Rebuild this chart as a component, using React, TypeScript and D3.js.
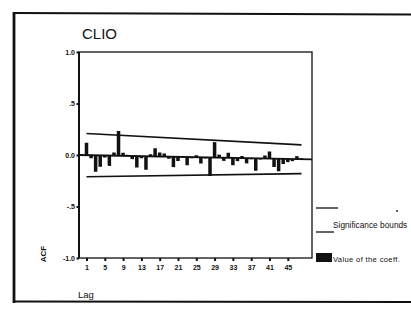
import React, { useEffect, useRef } from 'react';
import * as d3 from 'd3';

const title = 'CLIO';
const lags = d3.range(1, 49);
const acfValues = [
  0.12, -0.03, -0.16, -0.11, -0.02, -0.1, 0.03, 0.24, 0.03, 0.01,
  -0.03, -0.11, -0.02, -0.13, 0.02, 0.08, 0.04, 0.03, -0.02, -0.1,
  -0.04, 0.01, -0.08, -0.01, 0.02, -0.06, -0.01, -0.18, 0.15, 0.03,
  -0.03, 0.05, -0.07, -0.03, 0.02, -0.05, -0.01, -0.12, -0.01, 0.03,
  0.07, -0.08, -0.12, -0.05, -0.03, -0.02, 0.03, 0.01,
];
// significance bound at first and last lag
const boundLags = [1, 48];
const boundValues = [0.21, 0.14];
const yTicks = [1, 0.5, 0, -0.5, -1];
const yTickLabels = ['1.0', '.5', '0.0', '-.5', '-1.0'];
const xTicks = [1, 5, 9, 13, 17, 21, 25, 29, 33, 37, 41, 45];
const legendLabels = ['Significance bounds', 'Value of the coeff.'];

const App = () => {
  const ref = useRef(null);

  useEffect(() => {
    const svg = d3.select(ref.current);
    svg.selectAll('*').remove();
    const font = '"Liberation Sans", Arial, sans-serif';
    const ink = '#111';

    const left = 79, right = 312, top = 52, bottom = 258;
    const x = d3.scaleLinear().domain([1, 48]).range([86.5, 301.5]);
    const y = d3.scaleLinear().domain([-1, 1]).range([bottom, top]);

    // outer frame (scan)
    svg.append('line').attr('x1', 14).attr('x2', 411).attr('y1', 13).attr('y2', 14.5)
      .attr('stroke', ink).attr('stroke-width', 1.8);
    svg.append('line').attr('x1', 14).attr('x2', 411).attr('y1', 301.5).attr('y2', 302)
      .attr('stroke', ink).attr('stroke-width', 1.8);
    svg.append('line').attr('x1', 14).attr('x2', 14).attr('y1', 12).attr('y2', 303)
      .attr('stroke', ink).attr('stroke-width', 2.8);

    svg.append('text').attr('x', 82).attr('y', 38.5).text(title)
      .style('font-family', font).style('font-size', '15px').style('fill', ink);

    // plot box
    svg.append('rect').attr('x', left).attr('y', top)
      .attr('width', right - left).attr('height', bottom - top)
      .attr('fill', 'none').attr('stroke', ink).attr('stroke-width', 1.3);
    svg.append('line').attr('x1', left).attr('x2', left).attr('y1', top).attr('y2', bottom)
      .attr('stroke', ink).attr('stroke-width', 2);

    const yAxis = svg.append('g').attr('transform', `translate(${left},0)`)
      .call(d3.axisLeft(y).tickValues(yTicks).tickSize(2.5)
        .tickFormat((d, i) => yTickLabels[i]));
    yAxis.select('.domain').remove();
    yAxis.selectAll('line').attr('stroke', ink).attr('stroke-width', 2);
    yAxis.selectAll('text').attr('x', -4).attr('dy', '0.35em')
      .style('font-family', font).style('font-size', '7px').style('font-weight', 'bold').style('fill', ink);

    const xAxis = svg.append('g').attr('transform', `translate(0,${bottom})`)
      .call(d3.axisBottom(x).tickValues(xTicks).tickSize(3).tickFormat(d3.format('d')));
    xAxis.select('.domain').remove();
    xAxis.selectAll('line').attr('stroke', ink).attr('stroke-width', 2);
    xAxis.selectAll('text').attr('y', 7)
      .style('font-family', font).style('font-size', '7px').style('font-weight', 'bold').style('fill', ink);

    // data drawn with the slight tilt of the scanned page
    const g = svg.append('g')
      .attr('transform', `translate(${left},0) skewY(1.1) translate(${-left},0)`);
    g.append('line').attr('x1', left).attr('x2', right).attr('y1', y(0)).attr('y2', y(0))
      .attr('stroke', ink).attr('stroke-width', 1.8);
    g.selectAll('rect.bar').data(acfValues).enter().append('rect')
      .attr('class', 'bar')
      .attr('x', (d, i) => x(lags[i]) - 1.75)
      .attr('width', 3.5)
      .attr('y', d => y(Math.max(0, d)))
      .attr('height', d => Math.abs(y(d) - y(0)))
      .attr('fill', ink);
    [1, -1].forEach(sign => {
      const line = d3.line<number>()
        .x((d, i) => x(boundLags[i]))
        .y(d => y(sign * d));
      g.append('path').attr('d', line(boundValues))
        .attr('fill', 'none').attr('stroke', ink).attr('stroke-width', 1.7);
    });

    // legend
    svg.append('line').attr('x1', 316).attr('x2', 338).attr('y1', 208).attr('y2', 208)
      .attr('stroke', ink).attr('stroke-width', 1.3);
    svg.append('circle').attr('cx', 397).attr('cy', 211).attr('r', 0.9).attr('fill', ink);
    svg.append('line').attr('x1', 316).attr('x2', 334).attr('y1', 232).attr('y2', 232)
      .attr('stroke', ink).attr('stroke-width', 1.3);
    svg.append('text').attr('x', 333).attr('y', 228).text(legendLabels[0])
      .style('font-family', font).style('font-size', '8.3px').style('fill', ink);
    svg.append('rect').attr('x', 316).attr('y', 253).attr('width', 16).attr('height', 9).attr('fill', ink);
    svg.append('text').attr('x', 333).attr('y', 262).text(legendLabels[1])
      .style('font-family', font).style('font-size', '7.6px').style('letter-spacing', '0.35px').style('fill', ink);

    // axis titles
    svg.append('text').attr('transform', 'translate(45.5,254) rotate(-90)')
      .attr('text-anchor', 'middle').text('ACF')
      .style('font-family', font).style('font-size', '8px').style('font-weight', 'bold').style('fill', ink);
    svg.append('text').attr('x', 78).attr('y', 298).text('Lag')
      .style('font-family', font).style('font-size', '9.5px').style('fill', ink);
  }, []);

  return (
    <svg ref={ref} width={411} height={312}
      style={{ position: 'absolute', left: 0, top: 0, background: '#fff' }} />
  );
};

export default App;
